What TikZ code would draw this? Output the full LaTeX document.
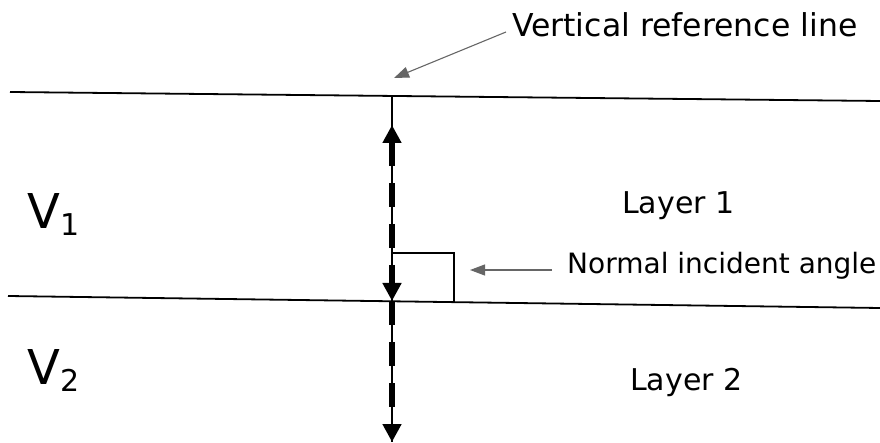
\documentclass[tikz,border=0pt]{standalone}
\usepackage{fontspec}
\setmainfont{DejaVu Sans}
\usetikzlibrary{arrows.meta}
\newcommand{\vsub}[1]{\raisebox{-7pt}{\fontsize{30}{34}\selectfont #1}}
\begin{document}
\begin{tikzpicture}[x=1pt,y=-1pt,
  layerline/.style={line width=1.8pt,black},
  thinline/.style={line width=1.3pt,black},
  bigdash/.style={line width=5.5pt,black,dash pattern=on 24pt off 17pt},
  bighead/.style={-{Triangle[length=18pt,width=18pt]}},
  callout/.style={line width=1.1pt,gray!80!black,-{Triangle[length=15pt,width=11pt]}},
  lbl/.style={font=\fontsize{30}{34}\selectfont,anchor=base west,inner sep=0pt},
  vlbl/.style={font=\fontsize{48}{54}\selectfont,anchor=base west,inner sep=0pt}]
\useasboundingbox (0,0) rectangle (880,443);
% layer boundaries
\coordinate (tl) at (10,92);
\coordinate (tr) at (880,101);
\coordinate (bl) at (8,296);
\coordinate (br) at (880,308);
\draw[layerline] (tl) -- (tr);
\draw[layerline] (bl) -- (br);
% vertical reference line
\coordinate (vtop) at (392,96);
\coordinate (vup) at (392,125);
\coordinate (vmid) at (392,301);
\coordinate (vbot) at (392,442);
\draw[thinline] (vtop) -- (vbot);
\draw[bigdash,{Triangle[length=18pt,width=18pt]}-{Triangle[length=18pt,width=18pt]}] (vup) -- (vmid);
\draw[bigdash,bighead] (vmid) -- (vbot);
% right angle box
\coordinate (b1) at (392,253);
\coordinate (b2) at (454,253);
\coordinate (b3) at (454,301);
\draw[thinline] (b1) -- (b2) -- (b3);
% labels
\node[lbl,font=\fontsize{31.5}{36}\selectfont] (vref) at (512,37) {Vertical reference line};
\node[lbl] (lay1) at (622,214) {Layer 1};
\node[lbl,font=\fontsize{28}{32}\selectfont] (nia) at (567,274) {Normal incident angle};
\node[lbl] (lay2) at (630,390) {Layer 2};
\node[vlbl] (v1) at (27,229) {V\vsub{1}};
\node[vlbl] (v2) at (27,384) {V\vsub{2}};
% callout arrows
\coordinate (c1s) at (506,32);
\coordinate (c1e) at (394,78);
\draw[callout] (c1s) -- (c1e);
\coordinate (c2s) at (552,270);
\coordinate (c2e) at (470,270);
\draw[callout] (c2s) -- (c2e);
\end{tikzpicture}
\end{document}
